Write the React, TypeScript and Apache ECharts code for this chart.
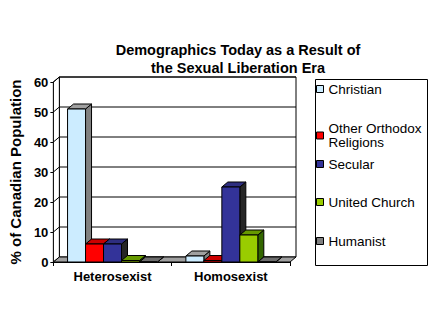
import React, { useEffect, useRef } from "react";
import * as echarts from "echarts";

const categories = ["Heterosexist", "Homosexist"];
const seriesNames = ["Christian", "Other Orthodox Religions", "Secular", "United Church", "Humanist"];
const christian = [51, 2];
const otherOrthodox = [6, 0.5];
const secular = [6, 25];
const unitedChurch = [0.5, 9];
const humanist = [0, 0];
const yTicks = [0, 10, 20, 30, 40, 50, 60];

const seriesValues = [christian, otherOrthodox, secular, unitedChurch, humanist];
const frontColors = ["#CCECFF", "#FF0000", "#333399", "#99CC00", "#808080"];
const topColors = ["#A0A0A0", "#CC0000", "#2E2E80", "#669900", "#6E6E6E"];
const sideColors = ["#808080", "#990000", "#262626", "#336600", "#4D4D4D"];

const FONT = "'Liberation Sans', Arial, sans-serif";
const DX = 6;
const DY = 5;

export default function App() {
  const ref = useRef<HTMLDivElement>(null);
  useEffect(() => {
    document.body.style.margin = "0";
    const chart = echarts.init(ref.current!, null, { renderer: "svg" });

    const frameSeries: any = {
      type: "custom",
      name: "__frame",
      coordinateSystem: "cartesian2d",
      data: [[0, 0]],
      silent: true,
      renderItem: (params: any, api: any) => {
        const c0 = api.coord([0, 0]);
        const band = api.size([1, 0])[0];
        const xL = c0[0] - band / 2;
        const xR = xL + band * categories.length;
        const yb = c0[1];
        const yt = api.coord([0, yTicks[yTicks.length - 1]])[1];
        const stroke = { stroke: "#000", lineWidth: 1 };
        const children: any[] = [
          {
            type: "polygon",
            shape: { points: [[xL + DX, yt - DY], [xR + DX, yt - DY], [xR + DX, yb - DY], [xL + DX, yb - DY]] },
            style: { fill: "#fff", ...stroke },
          },
          {
            type: "polygon",
            shape: { points: [[xL, yb], [xL, yt], [xL + DX, yt - DY], [xL + DX, yb - DY]] },
            style: { fill: "#fff", ...stroke },
          },
          {
            type: "polygon",
            shape: { points: [[xL, yb], [xL + DX, yb - DY], [xR + DX, yb - DY], [xR, yb]] },
            style: { fill: "#A0A0A0", ...stroke },
          },
        ];
        yTicks.forEach((v) => {
          if (v === 0) return;
          const y = api.coord([0, v])[1];
          children.push({
            type: "line",
            shape: { x1: xL + DX, y1: y - DY, x2: xR + DX, y2: y - DY },
            style: stroke,
          });
          children.push({
            type: "line",
            shape: { x1: xL, y1: y, x2: xL + DX, y2: y - DY },
            style: stroke,
          });
        });
        return { type: "group", children };
      },
    };

    const barSeries = seriesNames.map((name, k) => ({
      type: "custom",
      name,
      coordinateSystem: "cartesian2d",
      itemStyle: { color: frontColors[k] },
      data: seriesValues[k].map((v, i) => [i, v]),
      renderItem: (params: any, api: any) => {
        const cat = api.value(0);
        const v = api.value(1);
        const c = api.coord([cat, 0]);
        const band = api.size([1, 0])[0];
        const bw = band * 0.152;
        const x0 = c[0] - (bw * seriesNames.length) / 2 + k * bw;
        const x1 = x0 + bw;
        const yTop = api.coord([cat, v])[1];
        const yBot = c[1];
        const stroke = { stroke: "#000", lineWidth: 1 };
        return {
          type: "group",
          children: [
            {
              type: "polygon",
              shape: { points: [[x1, yTop], [x1 + DX, yTop - DY], [x1 + DX, yBot - DY], [x1, yBot]] },
              style: { fill: sideColors[k], ...stroke },
            },
            {
              type: "polygon",
              shape: { points: [[x0, yTop], [x0 + DX, yTop - DY], [x1 + DX, yTop - DY], [x1, yTop]] },
              style: { fill: topColors[k], ...stroke },
            },
            {
              type: "rect",
              shape: { x: x0, y: yTop, width: bw, height: yBot - yTop },
              style: { fill: frontColors[k], ...stroke },
            },
          ],
        };
      },
    }));

    const legendCenters = [89, 135.5, 164, 202, 241];
    const legends = seriesNames.map((name, k) => {
      const twoLine = name === "Other Orthodox Religions";
      const h = twoLine ? 28 : 16;
      return {
        data: [name],
        orient: "vertical",
        left: 316,
        top: legendCenters[k] - h / 2,
        padding: 0,
        itemWidth: 7,
        itemHeight: 7,
        icon: "rect",
        selectedMode: false,
        itemStyle: { borderColor: "#000", borderWidth: 1 },
        formatter: (n: string) => (n === "Other Orthodox Religions" ? "Other Orthodox\nReligions" : n),
        textStyle: { fontSize: 13.5, color: "#000", fontFamily: FONT, lineHeight: twoLine ? 14 : 16 },
      };
    });

    chart.setOption({
      animation: false,
      backgroundColor: "#fff",
      title: {
        text: "Demographics Today as a Result of\nthe Sexual Liberation Era",
        left: 233,
        top: 36,
        textAlign: "center",
        textStyle: { fontSize: 14.5, fontWeight: "bold", color: "#000", fontFamily: FONT, lineHeight: 18 },
      },
      grid: { left: 53, top: 82, width: 237, height: 180, containLabel: false },
      xAxis: {
        type: "category",
        data: categories,
        axisLine: { show: true, lineStyle: { color: "#000", width: 1 } },
        axisTick: { show: true, length: 4, lineStyle: { color: "#000" } },
        axisLabel: { margin: 8, fontSize: 13, fontWeight: "bold", color: "#000", fontFamily: FONT },
        splitLine: { show: false },
      },
      yAxis: {
        type: "value",
        min: 0,
        max: 60,
        interval: 10,
        name: "% of Canadian Population",
        nameLocation: "middle",
        nameRotate: 90,
        nameGap: 22,
        nameTextStyle: { fontSize: 15, fontWeight: "bold", color: "#000", fontFamily: FONT },
        axisLine: { show: true, lineStyle: { color: "#000", width: 1 } },
        axisTick: { show: true, length: 3, lineStyle: { color: "#000" } },
        axisLabel: { margin: 5, fontSize: 13, fontWeight: "bold", color: "#000", fontFamily: FONT },
        splitLine: { show: false },
      },
      legend: legends,
      graphic: [
        {
          type: "rect",
          left: 313,
          top: 77,
          shape: { width: 112, height: 186 },
          style: { fill: "none", stroke: "#000", lineWidth: 1 },
          silent: true,
        },
      ],
      series: [frameSeries, ...barSeries],
    } as any);
    return () => chart.dispose();
  }, []);
  return <div ref={ref} style={{ width: 444, height: 333 }} />;
}
